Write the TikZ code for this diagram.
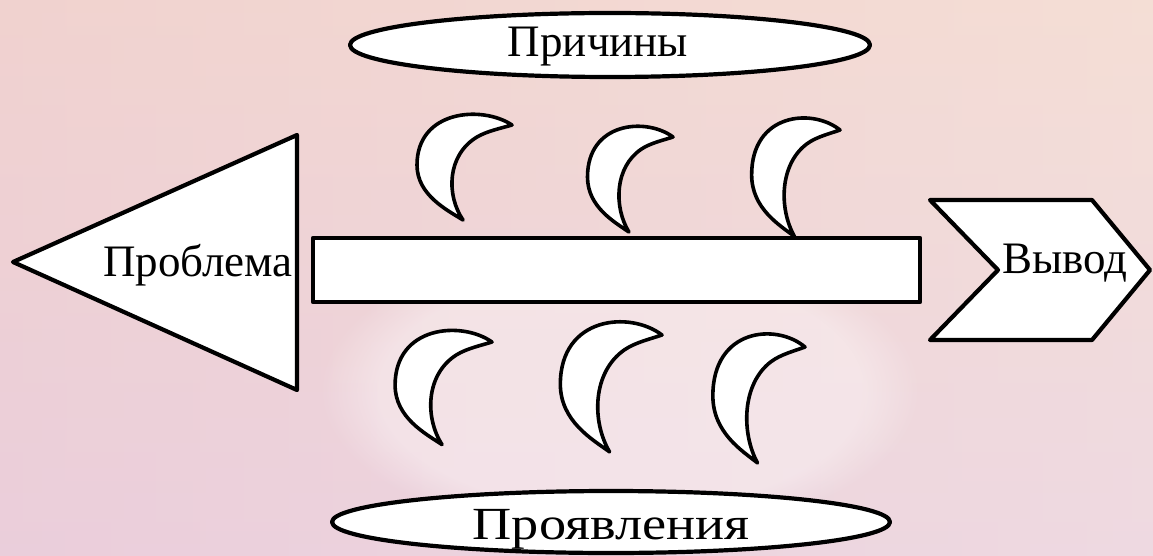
\documentclass[tikz,border=0pt]{standalone}
\usepackage{fontspec}
\setmainfont{Liberation Serif}
\usepackage{xcolor}
\usetikzlibrary{positioning, shapes.geometric, fadings}

\definecolor{bgpeach}{RGB}{243,214,202}
\definecolor{bgpink}{RGB}{238,206,214}
\definecolor{bglilac}{RGB}{232,206,224}
\definecolor{bglight}{RGB}{247,232,228}

\begin{document}
\begin{tikzpicture}[
  x=1pt, y=-1pt,
  font=\fontsize{45}{54}\selectfont,
  shapebox/.style={draw, line width=4.2pt, fill=white, line join=round},
  label/.style={inner sep=0pt},
  moon/.pic={
    \draw[shapebox, line width=3.6pt]
      (0,0) .. controls (-30,-20) and (-95,-15) .. (-95,40)
            .. controls (-95,70) and (-65,85) .. (-49,95)
            .. controls (-66,70) and (-65,30) .. (-35,12)
            .. controls (-25,6) and (-10,3) .. (0,0) -- cycle;
  }
]
% background
\useasboundingbox (0,0) rectangle (1153,556);
\shade[left color=bgpink, right color=bglight] (0,0) rectangle (1153,556);
\shade[top color=bgpeach, bottom color=bglilac, opacity=0.55] (0,0) rectangle (1153,556);
\fill[white, opacity=0.35, path fading=circle with fuzzy edge 20 percent]
  (620,390) ellipse (300 and 150);

% head and tail
\draw[shapebox] (13,262) -- (297,135) -- (297,390) -- cycle;
\node[label, anchor=base] (problem) at (198,276) {Проблема};
\draw[shapebox] (930,200) -- (1092,200) -- (1150,270) -- (1092,340)
  -- (930,340) -- (998,270) -- cycle;
\node[label, anchor=base] (result) at (1065,273) {Вывод};

% spine
\node[shapebox, minimum width=607pt, minimum height=64pt] (spine) at (616.5,270) {};

% bones (top tip x/y, xscale/yscale)
\foreach \cx/\cy/\sx/\sy in {512/125/1/1, 673/137/0.9/1, 840/130/0.93/1.12,
  492/342/1.02/1.08, 662/335/1.07/1.23, 805/347/0.97/1.22} {
  \pic[xscale=\sx, yscale=\sy] at (\cx,\cy) {moon};
}

% captions
\node[shapebox, ellipse, minimum width=520pt, minimum height=64pt, inner sep=0pt]
  (causes) at (610,45) {};
\node[label, anchor=base] at (598,57) {Причины};
\node[shapebox, ellipse, minimum width=558pt, minimum height=62pt, inner sep=0pt]
  (signs) at (611,522) {};
\node[label, anchor=base, xscale=1.18, font=\fontsize{46}{55}\selectfont]
  at (611,539) {Проявления};

\end{tikzpicture}
\end{document}
